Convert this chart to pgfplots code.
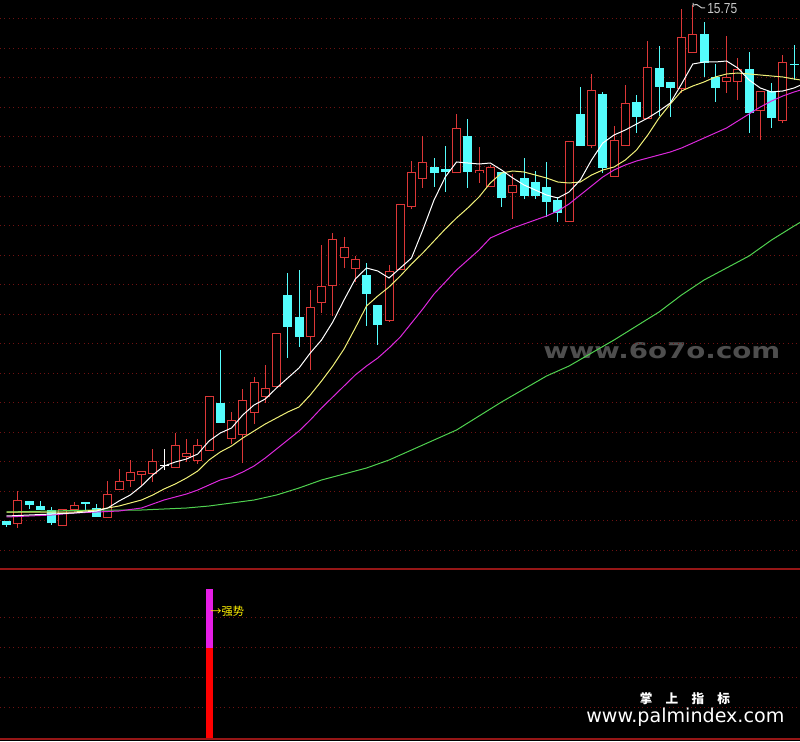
\documentclass[border=0pt]{standalone}
\usepackage{pgfplots}
\pgfplotsset{compat=1.18}
\usepackage{pgfplotstable}
\usepackage{fontspec}
\setmainfont{Liberation Sans}
\newfontfamily\cjk{Noto Sans CJK SC}
\newfontfamily\dvs{DejaVu Sans}

\definecolor{up}{RGB}{220,55,55}
\definecolor{dn}{RGB}{84,252,252}
\definecolor{maw}{RGB}{255,255,255}
\definecolor{may}{RGB}{240,240,120}
\definecolor{mam}{RGB}{220,40,220}
\definecolor{mag}{RGB}{80,210,80}
\definecolor{gridred}{RGB}{112,18,18}
\definecolor{sepred}{RGB}{150,22,22}
\definecolor{barmag}{RGB}{230,30,230}
\definecolor{wmgray}{RGB}{78,78,78}
\definecolor{lbl}{RGB}{200,200,200}

% candles: i open high low close (price)
\pgfplotstableread{
i o h l c
1 5.37 6.03 5.29 5.85
5 5.33 5.67 5.33 5.67
6 5.65 5.81 5.65 5.75
9 5.49 6.23 5.49 5.97
10 6.05 6.47 6.05 6.23
11 6.23 6.65 6.11 6.41
12 6.35 6.43 6.13 6.43
13 6.37 6.87 6.21 6.63
15 6.49 7.19 6.49 6.95
16 6.71 7.07 6.61 6.79
17 6.63 7.07 6.57 6.95
18 6.83 7.93 6.83 7.93
20 7.07 7.61 6.97 7.45
21 7.15 8.07 6.59 7.85
22 7.59 8.31 7.37 8.21
23 7.91 8.55 7.79 8.09
24 8.11 9.19 8.11 9.19
27 9.11 10.05 8.45 9.71
28 9.79 10.95 9.59 10.13
29 10.13 11.19 9.53 11.07
30 10.69 11.11 10.49 10.91
31 10.47 10.73 10.21 10.67
34 9.43 10.55 9.41 10.43
35 10.45 11.77 10.45 11.77
36 11.71 12.63 11.67 12.41
37 12.27 13.13 12.09 12.61
40 12.39 13.57 12.39 13.29
42 12.39 12.91 12.19 12.45
43 12.11 12.55 12.11 12.51
45 11.99 12.37 11.47 12.15
50 11.41 13.03 11.41 13.03
52 12.93 14.37 12.89 14.05
54 12.31 13.33 12.31 13.05
55 12.93 14.15 12.93 13.79
57 13.47 15.03 13.47 14.51
60 14.07 15.67 13.99 15.11
61 14.79 15.75 14.79 15.17
64 14.21 15.13 13.99 14.31
65 14.21 14.69 13.85 14.47
67 13.63 14.03 13.05 14.03
69 13.43 14.75 13.39 14.61
}\uptab

\pgfplotstableread{
i o h l c
0 5.43 5.43 5.31 5.35
2 5.83 5.83 5.67 5.75
3 5.73 5.83 5.65 5.65
4 5.65 5.71 5.35 5.39
7 5.81 5.81 5.65 5.77
8 5.69 5.77 5.51 5.51
19 7.79 8.85 7.39 7.39
25 9.95 10.39 8.69 9.31
26 9.51 10.45 8.91 9.11
32 10.35 10.59 9.33 9.97
33 9.75 9.75 8.95 9.35
38 12.51 12.69 12.11 12.39
39 12.47 12.93 12.01 12.41
41 13.13 13.47 12.09 12.41
44 12.41 12.41 11.71 11.89
46 12.29 12.69 11.87 11.93
47 12.21 12.43 11.87 11.93
48 12.11 12.61 11.51 11.81
49 11.85 11.91 11.41 11.59
51 13.57 14.11 12.93 12.93
53 13.97 14.01 12.39 12.49
56 13.81 13.95 13.19 13.51
58 14.49 14.93 13.53 14.11
59 14.21 14.21 13.51 14.09
62 15.17 15.41 14.31 14.59
63 14.31 14.57 13.81 14.09
66 14.47 14.81 13.19 13.59
68 14.03 14.19 13.29 13.49
70 14.57 14.95 14.25 14.57
}\dntab

\pgfplotstableread{
i o h l c
14 6.55 6.87 6.45 6.55
}\dojitab

% moving averages
\pgfplotstableread{
i p
0 5.53
2 5.55
4 5.57
6 5.59
8 5.63
9 5.69
10 5.83
11 5.95
12 6.13
13 6.35
14 6.53
15 6.61
16 6.67
17 6.77
18 7.03
19 7.19
20 7.29
21 7.55
22 7.75
23 7.87
24 8.09
25 8.29
26 8.49
27 8.79
28 9.05
29 9.41
30 9.85
31 10.27
32 10.49
33 10.43
34 10.29
35 10.49
36 10.69
37 11.25
38 11.85
39 12.31
40 12.61
41 12.59
42 12.57
43 12.59
44 12.45
45 12.29
46 12.15
47 12.05
48 11.95
49 11.89
50 12.01
51 12.25
52 12.65
53 12.99
54 13.15
55 13.25
56 13.37
57 13.49
58 13.63
59 13.79
60 14.17
61 14.57
62 14.61
63 14.61
64 14.63
65 14.49
66 14.25
67 14.09
68 14.01
69 14.03
70 14.09
70.6 14.15
}\mawtab

\pgfplotstableread{
i p
0 5.61
2 5.61
4 5.61
6 5.61
8 5.65
9 5.69
10 5.73
11 5.79
12 5.85
13 5.95
14 6.07
15 6.17
16 6.29
17 6.43
18 6.65
19 6.81
20 6.93
21 7.09
22 7.23
23 7.37
24 7.49
25 7.61
26 7.71
27 7.95
28 8.23
29 8.53
30 8.87
31 9.29
32 9.73
33 9.93
34 10.11
35 10.33
36 10.57
37 10.79
38 11.03
39 11.27
40 11.49
41 11.69
42 11.91
43 12.19
44 12.39
45 12.43
46 12.41
47 12.35
48 12.29
49 12.21
50 12.19
51 12.21
52 12.35
53 12.45
54 12.51
55 12.65
56 12.85
57 13.15
58 13.49
59 13.77
60 14.03
61 14.13
62 14.21
63 14.31
64 14.37
65 14.39
66 14.37
67 14.35
68 14.33
69 14.31
70 14.27
70.6 14.25
}\maytab

\pgfplotstableread{
i p
0 5.51
2 5.53
4 5.55
6 5.59
8 5.61
10 5.63
12 5.69
13 5.77
14 5.85
15 5.91
16 5.97
17 6.05
18 6.15
19 6.25
20 6.31
21 6.41
22 6.53
23 6.69
24 6.87
25 7.05
26 7.23
27 7.45
28 7.69
29 7.91
30 8.13
31 8.35
32 8.53
33 8.69
34 8.89
35 9.11
36 9.39
37 9.67
38 9.97
39 10.21
40 10.45
41 10.65
42 10.85
43 11.09
44 11.19
45 11.29
46 11.37
47 11.45
48 11.53
49 11.63
50 11.77
51 11.95
52 12.13
53 12.31
54 12.45
55 12.55
56 12.63
57 12.69
58 12.75
59 12.81
60 12.89
61 12.99
62 13.09
63 13.19
64 13.29
65 13.43
66 13.57
67 13.71
68 13.83
69 13.93
70 14.01
70.6 14.05
}\mamtab

\pgfplotstableread{
i p
0 5.61
4 5.63
8 5.65
12 5.65
16 5.69
18 5.73
20 5.79
22 5.85
24 5.95
26 6.09
28 6.25
30 6.37
32 6.49
34 6.65
36 6.85
38 7.05
40 7.25
42 7.53
44 7.81
46 8.07
48 8.33
50 8.53
52 8.79
54 9.05
56 9.33
58 9.61
60 9.95
62 10.25
64 10.49
66 10.73
68 11.05
70 11.33
70.6 11.41
}\magtab

\pgfplotsset{
  panel/.style={scale only axis, width=200mm, xmin=-0.578, xmax=70.53,
    xtick=\empty, yticklabels={}, major tick length=0pt,
    axis line style={draw=none}},
  gridded/.style={ymajorgrids,
    grid style={draw=gridred, line width=0.25mm, dash pattern=on 0.25mm off 0.85mm}},
  ebar/.style n args={2}{draw=none, mark=none, forget plot,
    error bars/y dir=both, error bars/y explicit, error bars/error mark=none,
    error bars/error bar style={draw=#1, solid, line width=#2}},
  ma/.style={draw=#1, line width=0.25mm, mark=none},
}

\begin{document}
\begin{tikzpicture}[x=0.25mm, y=0.25mm]
\useasboundingbox (0,0) rectangle (800,741);
\fill[black] (0,0) rectangle (800,741);
\coordinate (mainNW) at (0,741);
\coordinate (lowSW) at (0,2);

% watermark behind the chart
\node[anchor=base west, inner sep=0, text=wmgray] at (543,382)
  {\resizebox{59.25mm}{4mm}{\dvs\bfseries www.6o7o.com}};

% price panel
\begin{axis}[panel, gridded, at={(mainNW)}, anchor=north west, height=142mm,
  ymin=4.49, ymax=15.85,
  ytick={4.85,5.44,6.03,6.62,7.21,7.80,8.39,8.98,9.57,10.16,10.75,11.34,11.93,12.52,13.11,13.70,14.29,14.88,15.47}]
  % up candles, hollow red
  \addplot[ebar={up}{0.25mm}] table[x=i, y expr={(\thisrow{h}+\thisrow{l})/2},
    y error expr={(\thisrow{h}-\thisrow{l})/2}] {\uptab};
  \addplot[ebar={up}{2.25mm}] table[x=i, y expr={(\thisrow{o}+\thisrow{c})/2},
    y error expr={max(abs(\thisrow{c}-\thisrow{o})/2,0.01)}] {\uptab};
  \addplot[ebar={black}{1.75mm}] table[x=i, y expr={(\thisrow{o}+\thisrow{c})/2},
    y error expr={max(abs(\thisrow{c}-\thisrow{o})/2-0.02,0)}] {\uptab};
  % down candles, filled cyan
  \addplot[ebar={dn}{0.25mm}] table[x=i, y expr={(\thisrow{h}+\thisrow{l})/2},
    y error expr={(\thisrow{h}-\thisrow{l})/2}] {\dntab};
  \addplot[ebar={dn}{2.25mm}] table[x=i, y expr={(\thisrow{o}+\thisrow{c})/2},
    y error expr={max(abs(\thisrow{c}-\thisrow{o})/2,0.01)}] {\dntab};
  % doji
  \addplot[ebar={white}{0.25mm}] table[x=i, y expr={(\thisrow{h}+\thisrow{l})/2},
    y error expr={(\thisrow{h}-\thisrow{l})/2}] {\dojitab};
  \addplot[ebar={white}{2.25mm}] table[x=i, y expr={(\thisrow{o}+\thisrow{c})/2},
    y error expr={0.01}] {\dojitab};
  % moving averages
  \addplot[ma=mag] table[x=i, y=p] {\magtab};
  \addplot[ma=mam] table[x=i, y=p] {\mamtab};
  \addplot[ma=may] table[x=i, y=p] {\maytab};
  \addplot[ma=maw] table[x=i, y=p] {\mawtab};
\end{axis}

% indicator panel
\begin{axis}[panel, gridded, at={(lowSW)}, anchor=south west, height=42.5mm,
  ymin=0, ymax=100, ytick={18.82,36.47,53.53,71.18}]
  \addplot[ybar, bar width=1.75mm, bar shift=0pt, fill=barmag, draw=none]
    coordinates {(18,88.2)};
  \addplot[ybar, bar width=1.75mm, bar shift=0pt, fill=red, draw=none]
    coordinates {(18,53.5)};
  \node[anchor=west, inner sep=0, text=yellow,
    font=\cjk\fontsize{8pt}{8pt}\selectfont] at (axis cs:18.1,75.3) {→强势};
\end{axis}

\draw[sepred, line width=0.375mm] (0,172) -- (800,172);
\draw[sepred, line width=0.375mm] (0,2) -- (800,2);

% high label
\draw[lbl, line width=0.25mm] (693,738) -- (693,734)
  (694,736) .. controls (698,739) and (700,731) .. (705,733);
\node[anchor=west, inner sep=0, text=lbl] at (707,732)
  {\resizebox{7.5mm}{2.5mm}{15.75}};

% site marks
\node[text=white, inner sep=0, font=\cjk\bfseries\fontsize{9pt}{9pt}\selectfont]
  at (685,42) {掌\hspace{3.3mm}上\hspace{3.3mm}指\hspace{3.3mm}标};
\node[anchor=base west, inner sep=0, text=white] at (586,18)
  {\resizebox{49.5mm}{!}{\dvs www.palmindex.com}};
\end{tikzpicture}
\end{document}
